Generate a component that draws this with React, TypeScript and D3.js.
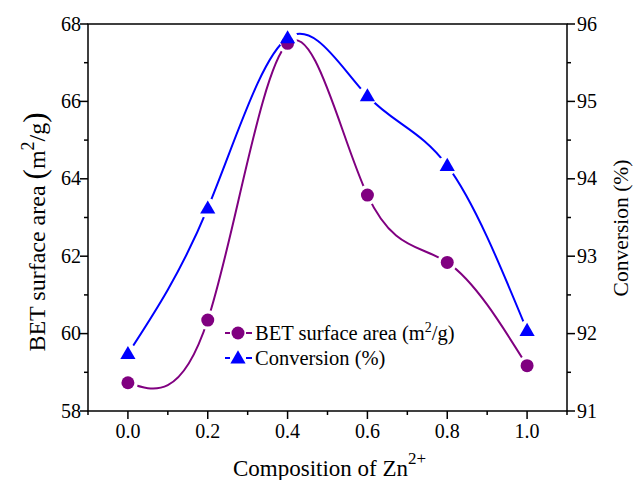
import React from "react";
import * as d3 from "d3";

const compositions = [0.0, 0.2, 0.4, 0.6, 0.8, 1.0];
const betArea = [58.73, 60.35, 67.5, 63.58, 61.84, 59.17];
const conversion = [91.74, 93.62, 95.82, 95.07, 94.17, 92.04];
const xTicks = [0.0, 0.2, 0.4, 0.6, 0.8, 1.0];
const xMinor = [-0.1, 0.1, 0.3, 0.5, 0.7, 0.9, 1.1];
const yLeftTicks = [58, 60, 62, 64, 66, 68];
const yLeftMinor = [59, 61, 63, 65, 67];
const yRightTicks = [91, 92, 93, 94, 95, 96];
const yRightMinor = [91.5, 92.5, 93.5, 94.5, 95.5];

const W = 635, H = 480;
const L = 88, R = 567, T = 24, B = 411;
const PURPLE = "#800080";
const BLUE = "#0000FF";
const F = "Liberation Serif";

export default function App() {
  const x = d3.scaleLinear().domain([-0.1, 1.1]).range([L, R]);
  const yL = d3.scaleLinear().domain([58, 68]).range([B, T]);
  const yR = d3.scaleLinear().domain([91, 96]).range([B, T]);

  const betPts: [number, number][] = compositions.map((c, i) => [x(c), yL(betArea[i])]);
  const convPts: [number, number][] = compositions.map((c, i) => [x(c), yR(conversion[i])]);
  const line = d3.line().curve(d3.curveNatural);
  const tri = d3.symbol().type(d3.symbolTriangle).size(100);

  return (
    <svg width={W} height={H} style={{ position: "absolute", left: 0, top: 0, background: "#fff" }}>
      <defs>
        <mask id="mBet" maskUnits="userSpaceOnUse" x={0} y={0} width={W} height={H}>
          <rect x={0} y={0} width={W} height={H} fill="#fff" />
          {betPts.map((p, i) => <circle key={i} cx={p[0]} cy={p[1]} r={10} fill="#000" />)}
        </mask>
        <mask id="mConv" maskUnits="userSpaceOnUse" x={0} y={0} width={W} height={H}>
          <rect x={0} y={0} width={W} height={H} fill="#fff" />
          {convPts.map((p, i) => <circle key={i} cx={p[0]} cy={p[1]} r={10} fill="#000" />)}
        </mask>
      </defs>

      <rect x={L} y={T} width={R - L} height={B - T} fill="none" stroke="#000" strokeWidth={1.5} />

      {xTicks.map((t) => (
        <g key={"x" + t}>
          <line x1={x(t)} x2={x(t)} y1={B} y2={B + 8} stroke="#000" strokeWidth={1.5} />
          <text x={x(t)} y={438} textAnchor="middle" style={{ fontFamily: F, fontSize: 20 }}>{t.toFixed(1)}</text>
        </g>
      ))}
      {xMinor.map((t) => (
        <line key={"xm" + t} x1={x(t)} x2={x(t)} y1={B} y2={B + 4} stroke="#000" strokeWidth={1.5} />
      ))}

      {yLeftTicks.map((t) => (
        <g key={"yl" + t}>
          <line x1={L - 8} x2={L} y1={yL(t)} y2={yL(t)} stroke="#000" strokeWidth={1.5} />
          <text x={81} y={yL(t) + 6.5} textAnchor="end" style={{ fontFamily: F, fontSize: 20 }}>{t}</text>
        </g>
      ))}
      {yLeftMinor.map((t) => (
        <line key={"ylm" + t} x1={L - 4} x2={L} y1={yL(t)} y2={yL(t)} stroke="#000" strokeWidth={1.5} />
      ))}

      {yRightTicks.map((t) => (
        <g key={"yr" + t}>
          <line x1={R} x2={R + 8} y1={yR(t)} y2={yR(t)} stroke="#000" strokeWidth={1.5} />
          <text x={577} y={yR(t) + 6.5} textAnchor="start" style={{ fontFamily: F, fontSize: 20 }}>{t}</text>
        </g>
      ))}
      {yRightMinor.map((t) => (
        <line key={"yrm" + t} x1={R} x2={R + 4} y1={yR(t)} y2={yR(t)} stroke="#000" strokeWidth={1.5} />
      ))}

      <path d={line(convPts) || ""} fill="none" stroke={BLUE} strokeWidth={2} mask="url(#mConv)" />
      <path d={line(betPts) || ""} fill="none" stroke={PURPLE} strokeWidth={2} mask="url(#mBet)" />

      {betPts.map((p, i) => <circle key={"bp" + i} cx={p[0]} cy={p[1]} r={6.5} fill={PURPLE} />)}
      {convPts.map((p, i) => (
        <path key={"cp" + i} d={tri() || ""} transform={`translate(${p[0]},${p[1] + 1})`} fill={BLUE} />
      ))}

      <line x1={225} x2={230} y1={333} y2={333} stroke={PURPLE} strokeWidth={2} />
      <line x1={246} x2={252} y1={333} y2={333} stroke={PURPLE} strokeWidth={2} />
      <circle cx={238} cy={333} r={6.5} fill={PURPLE} />
      <text x={255} y={340} style={{ fontFamily: F, fontSize: 20.5 }}>BET surface area (m<tspan dy={-8} style={{ fontSize: 14 }}>2</tspan><tspan dy={8}>/g)</tspan></text>
      <line x1={225} x2={230} y1={358} y2={358} stroke={BLUE} strokeWidth={2} />
      <line x1={246} x2={252} y1={358} y2={358} stroke={BLUE} strokeWidth={2} />
      <path d={tri() || ""} transform={`translate(238,359)`} fill={BLUE} />
      <text x={255} y={365} style={{ fontFamily: F, fontSize: 20.5 }}>Conversion (%)</text>

      <text transform="translate(45,232) rotate(-90)" textAnchor="middle" style={{ fontFamily: F, fontSize: 24 }}>
        BET surface area <tspan style={{ fontSize: 31 }}>(</tspan>m<tspan dy={-11} style={{ fontSize: 18 }}>2</tspan><tspan dy={11}>/g</tspan><tspan style={{ fontSize: 31 }}>)</tspan>
      </text>
      <text transform="translate(628,228) rotate(-90)" textAnchor="middle" style={{ fontFamily: F, fontSize: 21.5 }}>
        Conversion (%)
      </text>
      <text x={233} y={476} textAnchor="start" style={{ fontFamily: F, fontSize: 23 }}>
        Composition of Zn<tspan dy={-12} style={{ fontSize: 17 }}>2+</tspan>
      </text>
    </svg>
  );
}
